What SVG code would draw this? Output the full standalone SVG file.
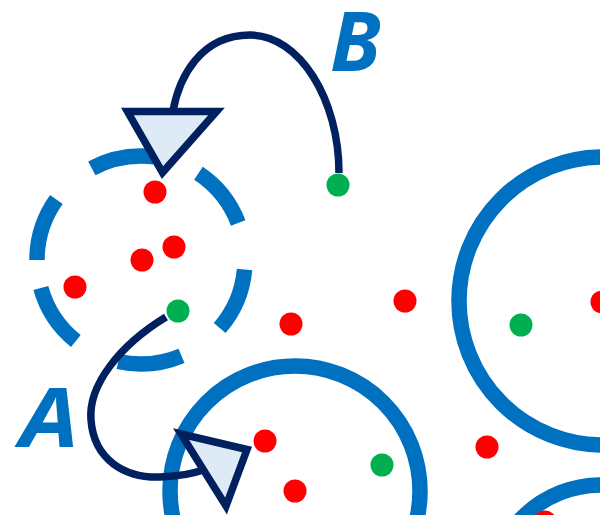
<svg xmlns="http://www.w3.org/2000/svg" width="600" height="515" viewBox="0 0 600 515">
  <style>
    .ring { fill: none; stroke: #0070C0; stroke-width: 15.5; }
    .dashed { stroke-dasharray: 64.5 47.5; }
    .link { fill: none; stroke: #002060; stroke-width: 7.5; }
    .head { fill: #DEEBF7; stroke: #002060; stroke-width: 7.5; stroke-linejoin: miter; stroke-miterlimit: 10; }
    .red { fill: #FF0000; }
    .green { fill: #00B050; }
    .label { font-family: "Open Sans", "Liberation Sans", sans-serif; font-weight: bold; font-style: italic; font-size: 82px; fill: #0070C0; }
  </style>

  <rect width="600" height="515" fill="#FFFFFF"/>

  <!-- clusters -->
  <g id="cluster-dashed">
    <circle class="ring dashed" cx="141" cy="260" r="104" transform="rotate(180 141 260)"/>
  </g>
  <g id="cluster-right">
    <circle class="ring" cx="603" cy="301" r="144"/>
  </g>
  <g id="cluster-bottom">
    <circle class="ring" cx="295" cy="491" r="125"/>
  </g>
  <g id="cluster-corner">
    <circle class="ring" cx="601" cy="596" r="111"/>
  </g>

  <!-- connectors -->
  <g id="connectors">
    <path class="link" d="M339,173 C339,100 300,35 250,35 C200,35 179,78 173,111"/>
    <polygon class="head" points="127.5,111.5 216.5,111.5 162.5,172.5"/>
    <path class="link" d="M166,317 C120,345 88,385 91,420 C94,460 125,478 160,477 C180,476 195,473 203,470"/>
    <polygon class="head" points="181,434 247,449.5 226,506"/>
  </g>

  <!-- points -->
  <g id="points">
    <circle class="red" cx="155" cy="192" r="11.5"/>
    <circle class="red" cx="174" cy="247" r="11.5"/>
    <circle class="red" cx="142" cy="260" r="11.5"/>
    <circle class="red" cx="75" cy="287" r="11.5"/>
    <circle class="green" cx="178" cy="311" r="11.5"/>
    <circle class="green" cx="338" cy="185" r="11.5"/>
    <circle class="red" cx="291" cy="324" r="11.5"/>
    <circle class="red" cx="405" cy="301" r="11.5"/>
    <circle class="green" cx="521" cy="325" r="11.5"/>
    <circle class="red" cx="602" cy="302" r="11.5"/>
    <circle class="red" cx="487" cy="447" r="11.5"/>
    <circle class="red" cx="265" cy="441" r="11.5"/>
    <circle class="green" cx="382" cy="465" r="11.5"/>
    <circle class="red" cx="295" cy="491" r="11.5"/>
    <circle class="red" cx="545" cy="522" r="11.5"/>
  </g>

  <!-- labels -->
  <g id="labels">
    <text class="label" x="0" y="0" transform="translate(20 447) scale(1.14 1)">A</text>
    <text class="label" x="330" y="71">B</text>
  </g>
</svg>
